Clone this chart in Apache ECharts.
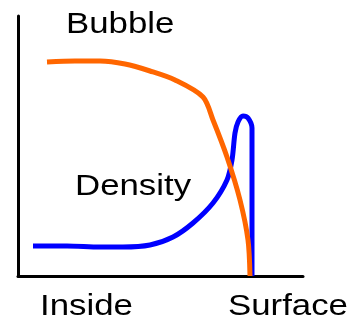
<!DOCTYPE html>
<html>
<head>
<meta charset="utf-8">
<script src="https://cdn.jsdelivr.net/npm/echarts@6/dist/echarts.min.js"></script>
<style>
  html, body { margin: 0; padding: 0; background: #fff; }
  #chart { width: 353px; height: 327px; }
</style>
</head>
<body>
<div id="chart"></div>
<script>
// curves, x from inside (0) to surface (~234), y up from the axis
var bubble = [[29, 214], [57, 215], [82, 215], [107, 212], [132, 205], [157, 196], [185, 179],
              [195, 156], [209, 119], [222, 76], [230, 36], [232, 0]];
var density = [[15, 30], [49, 30], [82, 29], [105, 29], [132, 31], [155, 39], [175, 53], [195, 73],
               [209, 96], [214, 116], [217, 143], [220, 154], [225, 160], [230, 158], [234, 148],
               [234, 120], [234, 93], [234, 43], [234, 0]];
var labels = ['Bubble', 'Density', 'Inside', 'Surface'];

var chartDom = document.getElementById('chart');
var myChart = echarts.init(chartDom);

function label(text, x, y) {
    return {
        type: 'text', x: x, y: y, scaleX: 1.16, z: 10,
        style: {
            text: text, fill: '#000', font: '30px "Liberation Sans", Arial, sans-serif',
            textAlign: 'left', textVerticalAlign: 'middle'
        }
    };
}

var option = {
    animation: false,
    grid: { left: 18, top: 16, right: 50, bottom: 51 },
    xAxis: {
        type: 'value', min: 0, max: 285,
        axisLine: { lineStyle: { color: '#000', width: 3 } },
        axisTick: { show: false }, axisLabel: { show: false }, splitLine: { show: false }
    },
    yAxis: {
        type: 'value', min: 0, max: 260,
        axisLine: { show: true, lineStyle: { color: '#000', width: 3 } },
        axisTick: { show: false }, axisLabel: { show: false }, splitLine: { show: false }
    },
    graphic: [
        label(labels[0], 66, 25),
        label(labels[1], 75, 187),
        label(labels[2], 40, 307),
        label(labels[3], 228, 307)
    ],
    series: [
        {
            type: 'line', data: density, smooth: 0.3, showSymbol: false,
            lineStyle: { color: '#0000ff', width: 5 }
        },
        {
            type: 'line', data: bubble, smooth: 0.3, showSymbol: false,
            lineStyle: { color: '#ff6600', width: 5 }
        }
    ]
};

option && myChart.setOption(option);
</script>
</body>
</html>
